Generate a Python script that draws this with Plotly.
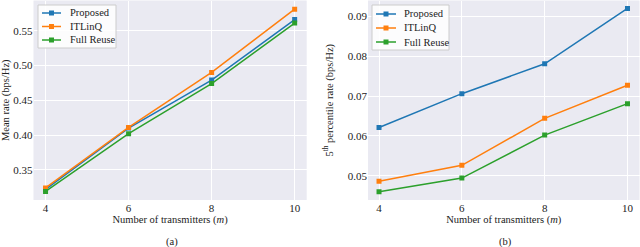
import plotly.graph_objects as go

m = [4, 6, 8, 10]
mean_proposed = [0.322, 0.410, 0.479, 0.566]
mean_itlinq = [0.324, 0.411, 0.490, 0.581]
mean_full = [0.319, 0.402, 0.474, 0.561]

p5_proposed = [0.0621, 0.0706, 0.0781, 0.0920]
p5_itlinq = [0.0486, 0.0526, 0.0644, 0.0727]
p5_full = [0.0460, 0.0494, 0.0602, 0.0681]

names = ["Proposed", "ITLinQ", "Full Reuse"]
colors = ["#1f77b4", "#ff7f0e", "#2ca02c"]
FONT = "Liberation Serif"
W, H = 640, 247

fig = go.Figure()
for name, ys, c in zip(names, [mean_proposed, mean_itlinq, mean_full], colors):
    fig.add_trace(go.Scatter(x=m, y=ys, name=name, mode="lines+markers",
                             line=dict(color=c, width=1.5),
                             marker=dict(symbol="square", size=5, color=c),
                             xaxis="x", yaxis="y", showlegend=False))
for name, ys, c in zip(names, [p5_proposed, p5_itlinq, p5_full], colors):
    fig.add_trace(go.Scatter(x=m, y=ys, name=name, mode="lines+markers",
                             line=dict(color=c, width=1.5),
                             marker=dict(symbol="square", size=5, color=c),
                             xaxis="x2", yaxis="y2", showlegend=False))

ax_common = dict(showgrid=True, gridcolor="white", gridwidth=1, zeroline=False,
                 showline=False, ticks="", automargin=False,
                 tickfont=dict(family=FONT, size=11, color="#222"))
ydom = [1 - 200/H, 1 - 0.5/H]

shapes = []
annotations = []


def px(x):
    return x / W


def py(y):
    return 1 - y / H


def add_legend(box, line_x0, line_x1, text_x, rows):
    x0, y0, x1, y1 = box
    shapes.append(dict(type="rect", xref="paper", yref="paper",
                       x0=px(x0), x1=px(x1), y0=py(y1), y1=py(y0),
                       fillcolor="rgba(255,255,255,0.85)",
                       line=dict(color="#cccccc", width=1)))
    for name, c, ry in zip(names, colors, rows):
        shapes.append(dict(type="line", xref="paper", yref="paper",
                           x0=px(line_x0), x1=px(line_x1), y0=py(ry), y1=py(ry),
                           line=dict(color=c, width=1.5)))
        mx = (line_x0 + line_x1) / 2
        shapes.append(dict(type="rect", xref="paper", yref="paper",
                           x0=px(mx - 2.5), x1=px(mx + 2.5), y0=py(ry + 2.5), y1=py(ry - 2.5),
                           fillcolor=c, line=dict(color=c, width=0)))
        annotations.append(dict(text=name, x=px(text_x), y=py(ry), xref="paper", yref="paper",
                                xanchor="left", yanchor="middle", showarrow=False,
                                font=dict(family=FONT, size=10.5, color="#222")))


add_legend((38, 5, 116, 48), 42, 61, 68, [13, 26.5, 40])
add_legend((372, 5, 449, 50), 376, 396, 402, [14, 28, 42])

annotations += [
    dict(text="(a)", x=172/W, y=py(242), xref="paper", yref="paper",
         xanchor="center", yanchor="middle",
         showarrow=False, font=dict(family=FONT, size=10.5, color="#222")),
    dict(text="(b)", x=505/W, y=py(242), xref="paper", yref="paper",
         xanchor="center", yanchor="middle",
         showarrow=False, font=dict(family=FONT, size=10.5, color="#222")),
]

fig.update_layout(
    width=W, height=H,
    margin=dict(l=0, r=0, t=0, b=0),
    paper_bgcolor="white", plot_bgcolor="#EAEAF2",
    font=dict(family=FONT, size=10, color="#222"),
    xaxis=dict(domain=[33.5/W, 306.7/W], range=[3.71, 10.29], tickvals=m,
               title=dict(text="Number of transmitters (<i>m</i>)", standoff=2,
                          font=dict(family=FONT, size=10.5)), anchor="y", **ax_common),
    yaxis=dict(domain=ydom, range=[0.3066, 0.5935], tickvals=[0.35, 0.40, 0.45, 0.50, 0.55],
               tickformat=".2f",
               title=dict(text="Mean rate (bps/Hz)", standoff=4,
                          font=dict(family=FONT, size=10.5)), anchor="x", **ax_common),
    xaxis2=dict(domain=[368/W, 639.5/W], range=[3.734, 10.29], tickvals=m,
                title=dict(text="Number of transmitters (<i>m</i>)", standoff=2,
                           font=dict(family=FONT, size=10.5)), anchor="y2", **ax_common),
    yaxis2=dict(domain=ydom, range=[0.0439, 0.0940], tickvals=[0.05, 0.06, 0.07, 0.08, 0.09],
                tickformat=".2f",
                title=dict(text="5<sup>th</sup> percentile rate (bps/Hz)", standoff=12,
                           font=dict(family=FONT, size=10.5)), anchor="x2", **ax_common),
    shapes=shapes,
    annotations=annotations,
)

fig.write_html("out.html", config={"displayModeBar": False},
               post_script="document.body.style.margin='0';document.body.style.overflow='hidden';")
